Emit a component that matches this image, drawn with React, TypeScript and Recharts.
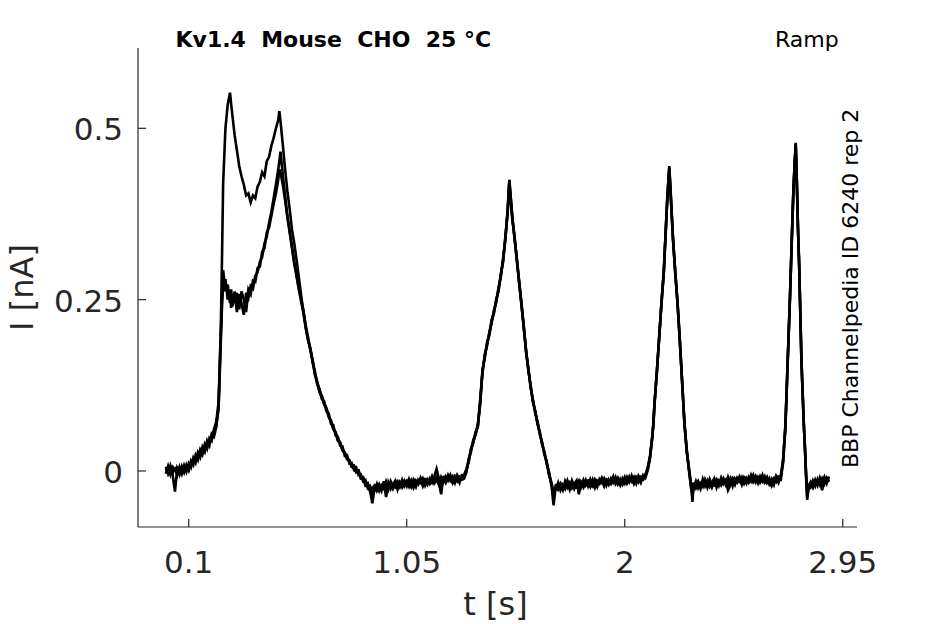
import React from 'react';
import { LineChart, Line, XAxis, YAxis, Label } from 'recharts';

// time grid [s]
const T = [
  0, 0.01, 0.02, 0.03, 0.04, 0.05, 0.06, 0.07, 0.08, 0.09, 0.1, 0.11, 0.12, 0.13, 0.14, 0.15, 0.16, 0.17, 0.18, 0.19, 0.2, 0.21, 0.22,
  0.23, 0.24, 0.245, 0.25, 0.26, 0.27, 0.28, 0.285, 0.29, 0.3,
  0.31, 0.32, 0.33, 0.34, 0.35, 0.36, 0.37, 0.38, 0.39, 0.4,
  0.41, 0.42, 0.43, 0.44, 0.45, 0.46, 0.47, 0.48, 0.49, 0.495,
  0.5, 0.51, 0.52, 0.53, 0.54, 0.55, 0.56, 0.57, 0.58, 0.59,
  0.6,
  0.61, 0.62, 0.63, 0.64, 0.65, 0.66, 0.67, 0.68, 0.69, 0.7,
  0.71, 0.72, 0.73, 0.74, 0.75, 0.76, 0.77, 0.78, 0.79, 0.8,
  0.81, 0.82, 0.83, 0.84, 0.85, 0.86, 0.87, 0.88, 0.89, 0.9,
  0.91, 0.92, 0.93, 0.94, 0.95, 0.96, 0.97, 0.98, 0.99, 1.0,
  1.01, 1.02, 1.03, 1.04, 1.05, 1.06, 1.07, 1.08, 1.09, 1.1,
  1.11, 1.12, 1.13, 1.14, 1.15, 1.16, 1.17, 1.18, 1.19, 1.2,
  1.21, 1.22, 1.23, 1.24, 1.25, 1.26, 1.27, 1.28, 1.29,
  1.3, 1.31, 1.32, 1.33, 1.34, 1.35, 1.36, 1.37, 1.38, 1.39,
  1.4, 1.41, 1.42, 1.43, 1.44, 1.45, 1.46, 1.47, 1.48, 1.49, 1.497,
  1.51, 1.52, 1.53, 1.54, 1.55, 1.56, 1.57, 1.58, 1.59, 1.6,
  1.61, 1.62, 1.63, 1.64, 1.65, 1.66, 1.67, 1.68, 1.69,
  1.7, 1.71, 1.72, 1.73, 1.74, 1.75, 1.76, 1.77, 1.78, 1.79,
  1.8, 1.81, 1.82, 1.83, 1.84, 1.85, 1.86, 1.87, 1.88, 1.89,
  1.9, 1.91, 1.92, 1.93, 1.94, 1.95, 1.96, 1.97, 1.98, 1.99,
  2.0, 2.01, 2.02, 2.03, 2.04, 2.05, 2.06, 2.07, 2.08,
  2.09, 2.1, 2.11, 2.12, 2.125, 2.13, 2.14, 2.15, 2.16, 2.17, 2.18, 2.185, 2.194,
  2.2, 2.21, 2.22, 2.23, 2.24, 2.25, 2.26, 2.27, 2.28, 2.29, 2.295,
  2.3, 2.31, 2.32, 2.33, 2.34, 2.35, 2.36, 2.37, 2.38, 2.39,
  2.4, 2.41, 2.42, 2.43, 2.44, 2.45, 2.46, 2.47, 2.48, 2.49,
  2.5, 2.51, 2.52, 2.53, 2.54, 2.55, 2.56, 2.57, 2.58, 2.59,
  2.6, 2.61, 2.62, 2.63, 2.64, 2.65, 2.66, 2.67, 2.68,
  2.69, 2.7, 2.71, 2.72, 2.73, 2.735, 2.74, 2.745, 2.75, 2.755, 2.76, 2.77, 2.78, 2.785, 2.79, 2.795, 2.8,
  2.81, 2.82, 2.83, 2.84, 2.85, 2.86, 2.87, 2.88, 2.89,
];

// current [nA], sweep with the large early peak
const TRACE_A = [
  0.006, -0.004, 0.005, -0.006, -0.03, 0.004, -0.003, 0.007, -0.002, 0.009, 0.001, 0.015, 0.009, 0.023, 0.016, 0.031, 0.024, 0.039, 0.032, 0.048, 0.044, 0.061, 0.072,
  0.1, 0.21, 0.31, 0.42, 0.5, 0.535, 0.552, 0.535, 0.52, 0.49,
  0.468, 0.445, 0.43, 0.418, 0.402, 0.405, 0.392, 0.402, 0.398, 0.415,
  0.422, 0.436, 0.43, 0.452, 0.458, 0.474, 0.486, 0.5, 0.512, 0.525,
  0.51, 0.476, 0.44, 0.408, 0.382, 0.352, 0.332, 0.308, 0.282, 0.256,
  0.232,
  0.212, 0.195, 0.176, 0.162, 0.142, 0.13, 0.117, 0.11, 0.099, 0.092,
  0.079, 0.074, 0.062, 0.057, 0.045, 0.042, 0.031, 0.027, 0.018, 0.016,
  0.007, 0.008, 0.0, 0.001, -0.01, -0.009, -0.02, -0.019, -0.03, -0.025,
  -0.021, -0.029, -0.022, -0.029, -0.015, -0.038, -0.017, -0.026, -0.019, -0.014,
  -0.027, -0.016, -0.021, -0.014, -0.022, -0.012, -0.021, -0.015, -0.023, -0.013,
  -0.017, -0.011, -0.021, -0.012, -0.017, -0.008, -0.018, -0.013, -0.02, -0.009,
  -0.016, -0.008, -0.014, -0.006, -0.017, -0.009, -0.015, -0.008, -0.009,
  -0.006, 0.003, 0.013, 0.033, 0.041, 0.057, 0.064, 0.104, 0.143, 0.17,
  0.183, 0.203, 0.216, 0.235, 0.246, 0.268, 0.283, 0.311, 0.338, 0.383, 0.425,
  0.372, 0.338, 0.31, 0.273, 0.245, 0.208, 0.177, 0.146, 0.125, 0.1,
  0.088, 0.068, 0.057, 0.038, 0.028, 0.01, -0.001, -0.02, -0.028,
  -0.027, -0.017, -0.028, -0.02, -0.026, -0.014, -0.023, -0.017, -0.026, -0.019,
  -0.014, -0.023, -0.013, -0.021, -0.016, -0.023, -0.013, -0.024, -0.014, -0.017,
  -0.01, -0.019, -0.014, -0.02, -0.011, -0.017, -0.009, -0.019, -0.012, -0.02,
  -0.014, -0.017, -0.008, -0.015, -0.009, -0.018, -0.007, -0.012, -0.013,
  -0.005, 0.005, 0.022, 0.048, 0.072, 0.102, 0.143, 0.197, 0.243, 0.292, 0.358, 0.397, 0.445,
  0.408, 0.342, 0.288, 0.247, 0.188, 0.132, 0.068, 0.032, 0.0, -0.027, -0.03,
  -0.02, -0.022, -0.015, -0.023, -0.02, -0.015, -0.024, -0.012, -0.02, -0.021,
  -0.014, -0.016, -0.021, -0.014, -0.012, -0.028, -0.021, -0.01, -0.013, -0.017,
  -0.011, -0.02, -0.009, -0.012, -0.017, -0.011, -0.013, -0.007, -0.014, -0.015,
  -0.006, -0.017, -0.013, -0.018, -0.021, -0.01, -0.01, -0.017, -0.006,
  0.017, 0.067, 0.162, 0.252, 0.362, 0.412, 0.447, 0.479, 0.422, 0.35, 0.302, 0.158, 0.072, 0.033, -0.003, -0.03, -0.022,
  -0.016, -0.024, -0.013, -0.021, -0.01, -0.019, -0.009, -0.018, -0.008,
];

// current [nA], sweep with the lower plateau (peak 0.466)
const TRACE_B = [
  -0.004, 0.007, -0.005, 0.006, 0.003, -0.006, 0.006, -0.004, 0.008, -0.001, 0.011, 0.005, 0.019, 0.012, 0.027, 0.02, 0.035, 0.028, 0.044, 0.037, 0.054, 0.05, 0.064,
  0.095, 0.2, 0.255, 0.293, 0.262, 0.272, 0.245, 0.265, 0.24, 0.262,
  0.232, 0.258, 0.245, 0.228, 0.26, 0.252, 0.27, 0.266, 0.285, 0.29,
  0.305, 0.312, 0.332, 0.342, 0.362, 0.378, 0.398, 0.418, 0.44, 0.452,
  0.466, 0.432, 0.402, 0.372, 0.35, 0.328, 0.305, 0.284, 0.265, 0.247,
  0.23,
  0.208, 0.192, 0.179, 0.158, 0.145, 0.126, 0.12, 0.105, 0.102, 0.087,
  0.084, 0.069, 0.067, 0.052, 0.05, 0.037, 0.036, 0.022, 0.023, 0.011,
  0.012, 0.002, 0.005, -0.006, -0.005, -0.015, -0.013, -0.025, -0.022, -0.032,
  -0.029, -0.019, -0.029, -0.021, -0.026, -0.015, -0.023, -0.018, -0.026, -0.019,
  -0.015, -0.023, -0.013, -0.022, -0.016, -0.023, -0.014, -0.024, -0.014, -0.018,
  -0.01, -0.019, -0.014, -0.02, -0.011, -0.017, -0.008, 0.003, -0.011, -0.018,
  -0.012, -0.016, -0.006, -0.014, -0.008, -0.017, -0.006, -0.012, -0.013,
  -0.011, -0.002, 0.018, 0.028, 0.046, 0.052, 0.069, 0.097, 0.148, 0.165,
  0.188, 0.198, 0.221, 0.23, 0.251, 0.262, 0.288, 0.305, 0.343, 0.378, 0.42,
  0.366, 0.342, 0.306, 0.277, 0.241, 0.212, 0.173, 0.15, 0.121, 0.104,
  0.084, 0.072, 0.053, 0.042, 0.024, 0.014, -0.006, -0.016, -0.033,
  -0.022, -0.024, -0.018, -0.025, -0.023, -0.017, -0.027, -0.014, -0.022, -0.024,
  -0.016, -0.018, -0.024, -0.016, -0.014, -0.02, -0.023, -0.012, -0.016, -0.019,
  -0.013, -0.022, -0.012, -0.014, -0.019, -0.013, -0.016, -0.01, -0.017, -0.018,
  -0.009, -0.018, -0.012, -0.014, -0.018, -0.008, -0.01, -0.017, -0.006,
  -0.01, 0.001, 0.018, 0.052, 0.068, 0.098, 0.147, 0.193, 0.247, 0.288, 0.362, 0.393, 0.44,
  0.402, 0.338, 0.292, 0.243, 0.192, 0.128, 0.072, 0.028, 0.004, -0.022, -0.045,
  -0.017, -0.025, -0.018, -0.026, -0.012, -0.022, -0.014, -0.023, -0.017, -0.011,
  -0.024, -0.014, -0.018, -0.011, -0.02, -0.009, -0.018, -0.013, -0.02, -0.01,
  -0.015, -0.009, -0.018, -0.01, -0.015, -0.006, -0.016, -0.011, -0.018, -0.008,
  -0.015, -0.008, -0.017, -0.011, -0.021, -0.012, -0.016, -0.008, -0.009,
  0.012, 0.062, 0.158, 0.256, 0.358, 0.408, 0.443, 0.475, 0.418, 0.354, 0.298, 0.162, 0.068, 0.037, -0.008, -0.042, -0.027,
  -0.024, -0.014, -0.022, -0.012, -0.02, -0.011, -0.019, -0.01, -0.016,
];

// current [nA], sweep with the lower plateau (peak 0.44)
const TRACE_C = [
  0.003, -0.002, 0.008, -0.003, 0.004, 0.005, -0.005, 0.005, 0.0, 0.007, 0.003, 0.013, 0.011, 0.016, 0.025, 0.022, 0.028, 0.036, 0.035, 0.045, 0.047, 0.058, 0.066,
  0.09, 0.19, 0.24, 0.27, 0.28, 0.25, 0.262, 0.238, 0.258, 0.245,
  0.26, 0.236, 0.262, 0.25, 0.232, 0.265, 0.258, 0.278, 0.276, 0.296,
  0.298, 0.32, 0.325, 0.348, 0.355, 0.372, 0.39, 0.405, 0.425, 0.44,
  0.435, 0.418, 0.395, 0.37, 0.348, 0.325, 0.302, 0.285, 0.266, 0.25,
  0.234,
  0.21, 0.19, 0.178, 0.161, 0.14, 0.129, 0.115, 0.108, 0.097, 0.091,
  0.08, 0.071, 0.061, 0.056, 0.044, 0.041, 0.03, 0.026, 0.017, 0.015,
  0.006, 0.004, -0.002, 0.0, -0.011, -0.01, -0.021, -0.018, -0.028, -0.047,
  -0.024, -0.026, -0.019, -0.026, -0.023, -0.018, -0.027, -0.015, -0.022, -0.024,
  -0.017, -0.018, -0.024, -0.017, -0.014, -0.02, -0.024, -0.012, -0.016, -0.02,
  -0.013, -0.022, -0.012, -0.014, -0.019, -0.013, -0.015, -0.009, -0.016, -0.034,
  -0.007, -0.017, -0.01, -0.013, -0.017, -0.007, -0.009, -0.017, -0.006,
  -0.007, 0.001, 0.015, 0.031, 0.043, 0.055, 0.066, 0.1, 0.145, 0.167,
  0.185, 0.2, 0.218, 0.232, 0.248, 0.265, 0.285, 0.308, 0.34, 0.38, 0.424,
  0.37, 0.34, 0.308, 0.275, 0.243, 0.21, 0.175, 0.148, 0.123, 0.102,
  0.086, 0.07, 0.055, 0.04, 0.026, 0.012, -0.004, -0.019, -0.05,
  -0.019, -0.027, -0.021, -0.028, -0.015, -0.024, -0.017, -0.025, -0.019, -0.014,
  -0.034, -0.016, -0.021, -0.013, -0.022, -0.012, -0.02, -0.015, -0.023, -0.012,
  -0.017, -0.011, -0.021, -0.012, -0.017, -0.008, -0.019, -0.014, -0.021, -0.011,
  -0.018, -0.009, -0.016, -0.007, -0.018, -0.01, -0.016, -0.008, -0.009,
  -0.007, 0.003, 0.02, 0.05, 0.07, 0.1, 0.145, 0.195, 0.245, 0.29, 0.36, 0.395, 0.443,
  0.405, 0.34, 0.29, 0.245, 0.19, 0.13, 0.07, 0.03, 0.002, -0.025, -0.036,
  -0.025, -0.015, -0.025, -0.018, -0.023, -0.012, -0.02, -0.015, -0.024, -0.016,
  -0.012, -0.021, -0.01, -0.019, -0.014, -0.02, -0.011, -0.022, -0.011, -0.015,
  -0.008, -0.017, -0.011, -0.018, -0.009, -0.015, -0.006, -0.016, -0.009, -0.017,
  -0.011, -0.016, -0.009, -0.019, -0.012, -0.02, -0.007, -0.012, -0.013,
  0.015, 0.065, 0.16, 0.254, 0.36, 0.41, 0.445, 0.477, 0.42, 0.352, 0.3, 0.16, 0.07, 0.035, -0.005, -0.038, -0.025,
  -0.019, -0.021, -0.015, -0.018, -0.013, -0.028, -0.012, -0.015, -0.012,
];

const X_TICKS = [0.1, 1.05, 2, 2.95];
const Y_TICKS = [0, 0.25, 0.5];
const X_DOMAIN = [-0.121, 3.012];
const Y_DOMAIN = [-0.0817, 0.6172];

const TITLE = 'Kv1.4  Mouse  CHO  25 °C';
const PROTOCOL = 'Ramp';
const SOURCE = 'BBP Channelpedia ID 6240 rep 2';
const X_LABEL = 't [s]';
const Y_LABEL = 'I [nA]';

const rows = T.map((t, i) => ({ t, a: TRACE_A[i], b: TRACE_B[i], c: TRACE_C[i] }));

const FONT = '"DejaVu Sans", sans-serif';
const AXIS_COLOR = '#262626';
const TRACE_WIDTH = 2.6;

const XTick = (props: any) => {
  const { x, y, payload } = props;
  return (
    <g>
      <line x1={x} y1={y} x2={x} y2={y - 8} stroke={AXIS_COLOR} strokeWidth={1.2} />
      <text x={x} y={y + 46} textAnchor="middle" fontSize={31} fill={AXIS_COLOR} fontFamily={FONT}>
        {String(payload.value)}
      </text>
    </g>
  );
};

const YTick = (props: any) => {
  const { x, y, payload } = props;
  return (
    <g>
      <line x1={x} y1={y} x2={x + 8} y2={y} stroke={AXIS_COLOR} strokeWidth={1.2} />
      <text x={x - 15} y={y + 12} textAnchor="end" fontSize={31} fill={AXIS_COLOR} fontFamily={FONT}>
        {String(payload.value)}
      </text>
    </g>
  );
};

const XTitle = (props: any) => {
  const vb = props.viewBox || { x: 138, y: 527, width: 719, height: 97 };
  return (
    <text x={vb.x + vb.width / 2 - 2} y={vb.y + 88} textAnchor="middle" fontSize={32} fill={AXIS_COLOR} fontFamily={FONT}>
      {X_LABEL}
    </text>
  );
};

const YTitle = (props: any) => {
  const vb = props.viewBox || { x: 0, y: 48, width: 138, height: 479 };
  const cx = vb.x + 33;
  const cy = vb.y + vb.height / 2;
  return (
    <text x={cx} y={cy} textAnchor="middle" fontSize={32} fill={AXIS_COLOR} fontFamily={FONT} transform={`rotate(-90, ${cx}, ${cy})`}>
      {Y_LABEL}
    </text>
  );
};

export default function App() {
  return (
    <div style={{ position: 'absolute', left: 0, top: 0, width: 945, height: 624, background: '#fff' }}>
      <LineChart width={945} height={624} data={rows} margin={{ top: 48, right: 88, bottom: 0, left: 0 }}>
        <XAxis
          dataKey="t"
          type="number"
          domain={X_DOMAIN}
          allowDataOverflow
          ticks={X_TICKS}
          height={97}
          tickSize={0}
          tickMargin={0}
          tickLine={false}
          tick={<XTick />}
          axisLine={{ stroke: AXIS_COLOR, strokeWidth: 1.2 }}
          interval={0}
        >
          <Label content={<XTitle />} />
        </XAxis>
        <YAxis
          type="number"
          domain={Y_DOMAIN}
          allowDataOverflow
          ticks={Y_TICKS}
          width={138}
          tickSize={0}
          tickMargin={0}
          tickLine={false}
          tick={<YTick />}
          axisLine={{ stroke: AXIS_COLOR, strokeWidth: 1.2 }}
          interval={0}
        >
          <Label content={<YTitle />} />
        </YAxis>
        <Line dataKey="c" type="linear" stroke="#000" strokeWidth={TRACE_WIDTH} dot={false} isAnimationActive={false} />
        <Line dataKey="b" type="linear" stroke="#000" strokeWidth={TRACE_WIDTH} dot={false} isAnimationActive={false} />
        <Line dataKey="a" type="linear" stroke="#000" strokeWidth={TRACE_WIDTH} dot={false} isAnimationActive={false} />
      </LineChart>
      <svg width={945} height={624} style={{ position: 'absolute', left: 0, top: 0, pointerEvents: 'none' }}>
        <text x={175.5} y={47} fontSize={22} fontWeight="bold" fill="#000" fontFamily={FONT} style={{ whiteSpace: 'pre' }}>
          {TITLE}
        </text>
        <text x={775} y={47} fontSize={22} fill="#000" fontFamily={FONT}>
          {PROTOCOL}
        </text>
        <text x={858} y={468} fontSize={22} fill="#000" fontFamily={FONT} transform="rotate(-90, 858, 468)">
          {SOURCE}
        </text>
      </svg>
    </div>
  );
}
